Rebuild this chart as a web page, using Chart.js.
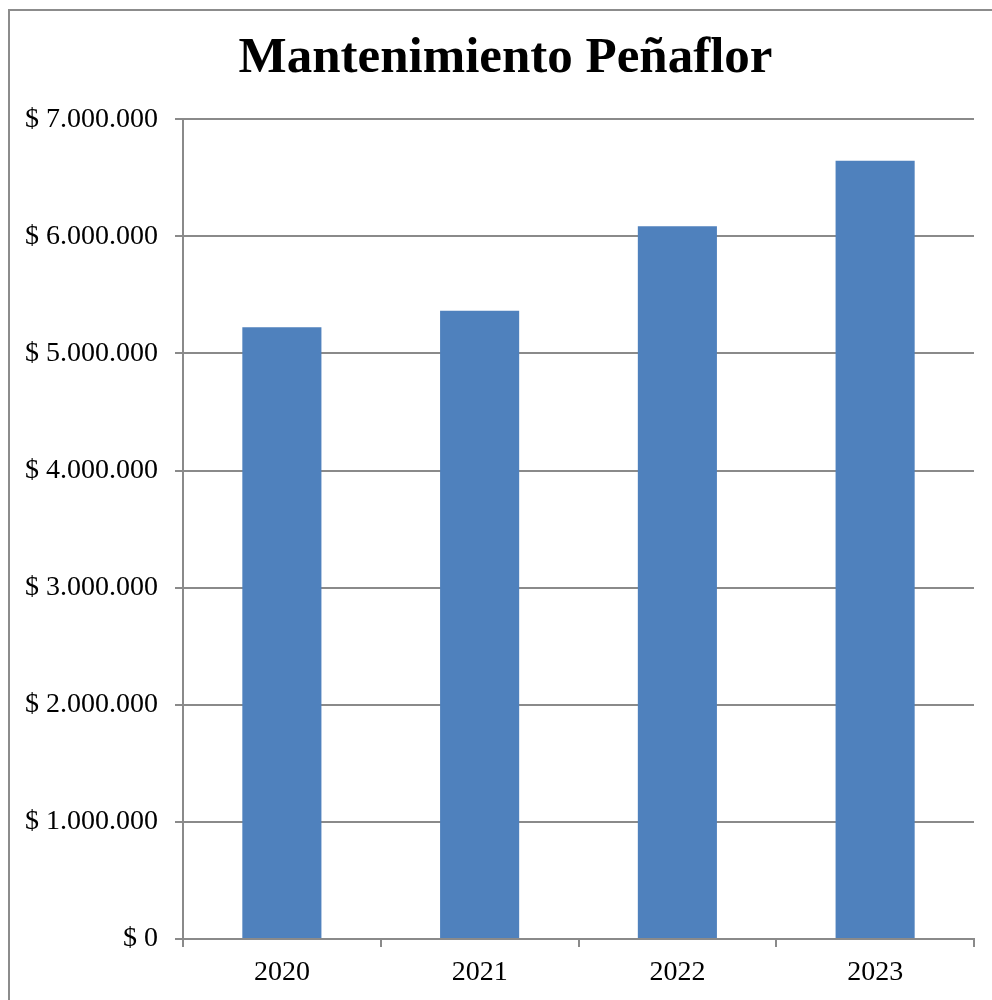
<!DOCTYPE html>
<html>
<head>
<meta charset="utf-8">
<style>
  html, body { margin: 0; padding: 0; background: #fff; }
  #wrap { width: 992px; height: 1000px; position: relative; overflow: hidden; }
</style>
<script src="https://cdn.jsdelivr.net/npm/chart.js@4"></script>
</head>
<body>
<div id="wrap"><canvas id="c" width="992" height="1000"></canvas></div>
<script>
const chartTitle = 'Mantenimiento Peñaflor';
const categories = ['2020', '2021', '2022', '2023'];
const values = [5223000, 5365000, 6087000, 6645000];
const yMin = 0;
const yMax = 7000000;
const yStep = 1000000;

function fmtPeso(v) {
  return '$ ' + Math.round(v).toString().replace(/\B(?=(\d{3})+(?!\d))/g, '.');
}

const frame = {
  id: 'frame',
  beforeDraw(chart) {
    const ctx = chart.ctx;
    ctx.save();
    ctx.fillStyle = '#ffffff';
    ctx.fillRect(0, 0, chart.width, chart.height);
    ctx.strokeStyle = '#8c8c8c';
    ctx.lineWidth = 2;
    ctx.strokeRect(9, 10, 1100, 1100);
    ctx.restore();
  }
};

const titleShift = {
  id: 'titleShift',
  afterLayout(chart) {
    if (chart.titleBlock) {
      chart.titleBlock.left = 37;
      chart.titleBlock.right = 974;
    }
  }
};

new Chart(document.getElementById('c'), {
  type: 'bar',
  data: {
    labels: categories,
    datasets: [{
      data: values,
      backgroundColor: '#4F81BD',
      borderWidth: 0,
      categoryPercentage: 1,
      barPercentage: 0.4
    }]
  },
  options: {
    responsive: false,
    animation: false,
    devicePixelRatio: 1,
    layout: { padding: { left: 0, right: 18, top: 28, bottom: 0 } },
    plugins: {
      legend: { display: false },
      tooltip: { enabled: false },
      title: {
        display: true,
        text: chartTitle,
        color: '#000',
        font: { family: 'Liberation Serif', size: 51, weight: 'bold' },
        padding: { top: 0, bottom: 30 }
      }
    },
    scales: {
      x: {
        grid: { display: true, drawOnChartArea: false, drawTicks: true, tickLength: 8, color: '#8a8a8a', lineWidth: 2, offset: true },
        border: { display: true, color: '#8a8a8a', width: 2 },
        ticks: { color: '#000', font: { family: 'Liberation Serif', size: 28 }, padding: 9 },
        afterFit(scale) { scale.height = 61; }
      },
      y: {
        min: yMin,
        max: yMax,
        grid: { color: '#8a8a8a', lineWidth: 2, tickLength: 8, drawTicks: true },
        border: { display: true, color: '#8a8a8a', width: 2 },
        ticks: {
          stepSize: yStep,
          color: '#000',
          font: { family: 'Liberation Serif', size: 28 },
          padding: 17,
          callback: (v) => fmtPeso(v)
        },
        afterFit(scale) { scale.width = 183; }
      }
    }
  },
  plugins: [frame, titleShift]
});
</script>
</body>
</html>
